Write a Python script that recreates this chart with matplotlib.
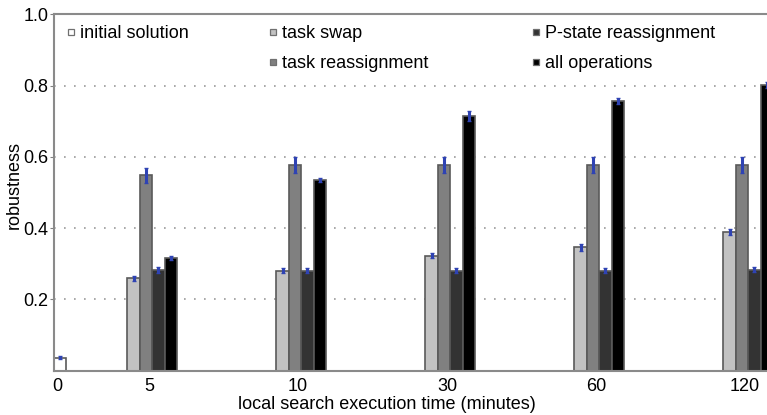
import matplotlib
matplotlib.use("Agg")
import matplotlib.pyplot as plt
from matplotlib.lines import Line2D
import numpy as np

plt.rcParams['font.family'] = ['Liberation Sans', 'DejaVu Sans']

# --- data -------------------------------------------------------------
time_labels = ['0', '5', '10', '30', '60', '120']
series = ['initial solution', 'task swap', 'task reassignment',
          'P-state reassignment', 'all operations']

# initial solution only exists at time 0
initial_val = 0.037
initial_err = 0.003

# other operations at 5, 10, 30, 60, 120 minutes
task_swap = [0.259, 0.281, 0.323, 0.346, 0.390]
task_swap_err = [0.008, 0.007, 0.008, 0.009, 0.009]
task_reassign = [0.549, 0.577, 0.577, 0.577, 0.577]
task_reassign_err = [0.021, 0.022, 0.022, 0.022, 0.022]
pstate = [0.283, 0.281, 0.281, 0.281, 0.283]
pstate_err = [0.008, 0.007, 0.007, 0.007, 0.007]
all_ops = [0.317, 0.535, 0.715, 0.758, 0.802]
all_ops_err = [0.006, 0.006, 0.015, 0.008, 0.008]

colors = ['#ffffff', '#c2c2c2', '#808080', '#333333', '#000000']
edge = '#5a5a5a'
err_col = '#2f43b3'

# --- figure -----------------------------------------------------------
W, H = 767, 415
fig = plt.figure(figsize=(W / 100, H / 100), dpi=100)
ax_l, ax_r, ax_t, ax_b = 54, 782, 14.5, 370.7
ax = fig.add_axes([ax_l / W, 1 - ax_b / H, (ax_r - ax_l) / W, (ax_b - ax_t) / H])

groups = np.arange(1, 6)
width = 0.083
x0 = 0.42   # the lone initial-solution bar

ax.bar(x0, initial_val, width, color=colors[0], edgecolor=edge, lw=1.2, zorder=2)
ax.errorbar(x0, initial_val, yerr=initial_err, fmt='none', ecolor=err_col,
            elinewidth=2.2, capsize=1.5, zorder=3)

vals = [task_swap, task_reassign, pstate, all_ops]
errs = [task_swap_err, task_reassign_err, pstate_err, all_ops_err]
for k, (v, e) in enumerate(zip(vals, errs)):
    xs = groups + (k - 1) * width
    ax.bar(xs, v, width, color=colors[k + 1], edgecolor=edge, lw=1.2, zorder=2)
    ax.errorbar(xs, v, yerr=e, fmt='none', ecolor=err_col,
                elinewidth=2.2, capsize=1.5, zorder=3)

ax.set_xlim((ax_l - 146) / 149 + 1, (ax_r - 146) / 149 + 1)
ax.set_ylim(0, 1.0)
ax.set_xticks([x0 - 0.015] + list(groups + 0.02))
ax.set_xticklabels(time_labels)
ax.set_yticks([0.2, 0.4, 0.6, 0.8, 1.0])
ax.set_yticklabels(['0.2', '0.4', '0.6', '0.8', '1.0'])
ax.tick_params(axis='both', labelsize=13, colors='#808080', labelcolor='black')
ax.tick_params(axis='x', length=0, pad=5)
ax.tick_params(axis='y', length=3, pad=1)

ax.yaxis.grid(True, linestyle=(0, (1, 5)), color='#9a9a9a', lw=1.2)
ax.set_axisbelow(True)
for s in ax.spines.values():
    s.set_color('#8a8a8a')
    s.set_linewidth(1.5)
ax.spines['right'].set_visible(False)

ax.set_xlabel('local search execution time (minutes)', fontsize=13)
ax.xaxis.set_label_coords((387 - ax_l) / (ax_r - ax_l), -(396 - ax_b) / (ax_b - ax_t))
ax.set_ylabel('robustness', fontsize=13)
ax.yaxis.set_label_coords(-(ax_l - 23) / (ax_r - ax_l), (ax_b - 185) / (ax_b - ax_t))

# --- legend: three columns placed like the original --------------------
def handle(c):
    return Line2D([], [], marker='s', linestyle='none', markersize=4.5,
                  markerfacecolor=c, markeredgecolor='#707070', markeredgewidth=0.9)

cols = [
    ([0], 66),
    ([1, 2], 268),
    ([3, 4], 531),
]
for idx, xpx in cols:
    fig.legend([handle(colors[i]) for i in idx], [series[i] for i in idx],
               loc='upper left', bbox_to_anchor=(xpx / W, 1 - 25 / H),
               bbox_transform=fig.transFigure, frameon=False, fontsize=13,
               borderpad=0, borderaxespad=0, handlelength=0.5,
               handletextpad=0.25, labelspacing=0.72)

fig.savefig('out.png', dpi=100)
